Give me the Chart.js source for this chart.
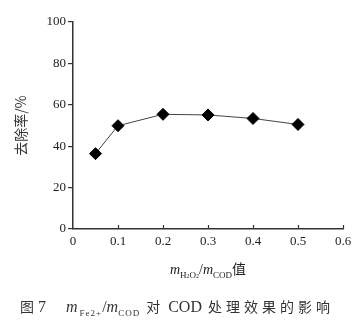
<!DOCTYPE html>
<html lang="zh">
<head>
    <meta charset="UTF-8">
    <title>图 7</title>
    <script src="https://cdn.jsdelivr.net/npm/chart.js"></script>
    <style>
        body { margin: 0; background: #fff; }
        .wrap { position: relative; width: 361px; height: 324px; }
        .xtitle {
            position: absolute; left: 0; width: 416px; top: 258px;
            text-align: center; font-family: "Liberation Serif", serif; font-size: 14px; color: #222;
        }
        .caption {
            position: absolute; left: 20px; top: 296px; white-space: nowrap;
            font-family: "Liberation Serif", serif; font-size: 16px; color: #333;
        }
        i { font-style: italic; }
        sub { font-size: 9px; vertical-align: -4px; font-style: normal; }
        .cjk { font-family: "Noto Sans CJK SC", sans-serif; font-size: 14px; }
        .caption .cjk { letter-spacing: 4px; }
    </style>
</head>
<body>
<div class="wrap">
    <canvas id="c" width="361" height="324"></canvas>
    <div class="xtitle"><i>m</i><sub>H<span style="font-size:6px">2</span>O<span style="font-size:6px">2</span></sub>/<i>m</i><sub>COD</sub><span class="cjk">值</span></div>
    <div class="caption"><span class="cjk">图</span>7<span style="margin-left:20px"><i>m</i><sub style="margin-left:2px;letter-spacing:1px">Fe2+</sub>/<i>m</i><sub style="letter-spacing:1px">COD</sub></span><span class="cjk" style="margin-left:6px">对</span><span style="margin-left:4px">COD</span><span class="cjk" style="margin-left:6px">处理效果的影响</span></div>
</div>
<script>
    const ratio = [0.05, 0.1, 0.2, 0.3, 0.4, 0.5];
    const removal = [36.4, 49.9, 55.4, 55.1, 53.4, 50.5];
    const xTicks = [0, 0.1, 0.2, 0.3, 0.4, 0.5, 0.6];
    const yTicks = [0, 20, 40, 60, 80, 100];

    const axisColor = '#333';
    const tickFont = { family: 'Liberation Serif', size: 13 };

    // x ticks point up into the plot
    const innerTicks = {
        id: 'innerTicks',
        afterDraw(chart) {
            const x = chart.scales.x, ctx = chart.ctx;
            const bottom = chart.chartArea.bottom;
            ctx.save();
            ctx.strokeStyle = axisColor;
            ctx.lineWidth = 1.2;
            xTicks.forEach(v => {
                if (v === 0) return;
                const px = Math.round(x.getPixelForValue(v)) + 0.5;
                ctx.beginPath();
                ctx.moveTo(px, bottom);
                ctx.lineTo(px, bottom - 4);
                ctx.stroke();
            });
            ctx.restore();
        }
    };

    new Chart(document.getElementById('c'), {
        type: 'scatter',
        data: {
            datasets: [{
                data: ratio.map((r, i) => ({ x: r, y: removal[i] })),
                showLine: true,
                borderColor: '#444',
                borderWidth: 1,
                pointStyle: 'rectRot',
                pointRadius: 6,
                pointBackgroundColor: '#000',
                pointBorderColor: '#000'
            }]
        },
        options: {
            responsive: false,
            animation: false,
            layout: { padding: { top: 22, right: 18, left: 0, bottom: 0 } },
            plugins: { legend: { display: false }, tooltip: { enabled: false } },
            scales: {
                x: {
                    type: 'linear', min: 0, max: 0.6,
                    afterFit(s) { s.height = 95; },
                    afterBuildTicks(s) { s.ticks = xTicks.map(v => ({ value: v })); },
                    grid: { display: false, drawTicks: false },
                    border: { color: axisColor, width: 1.5 },
                    ticks: { color: '#222', font: tickFont, padding: 5, maxRotation: 0,
                             callback: v => String(v) }
                },
                y: {
                    min: 0, max: 100,
                    afterFit(s) { s.width = 73; },
                    afterBuildTicks(s) { s.ticks = yTicks.map(v => ({ value: v })); },
                    grid: { drawOnChartArea: false, drawTicks: true, tickLength: 5, color: axisColor, lineWidth: 1.2 },
                    border: { color: axisColor, width: 1.5 },
                    ticks: { color: '#222', font: tickFont, padding: 2 },
                    title: { display: true, text: '去除率/%', color: '#333',
                             font: { family: 'Noto Sans CJK SC', size: 14 }, padding: { top: 12, bottom: 0 } }
                }
            }
        },
        plugins: [innerTicks]
    });
</script>
</body>
</html>
